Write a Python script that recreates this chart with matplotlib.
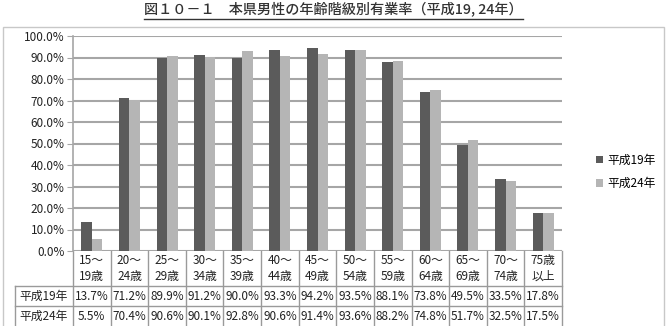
import matplotlib.pyplot as plt
from matplotlib.patches import Rectangle
from matplotlib.lines import Line2D
import numpy as np

plt.rcParams['font.family'] = ['Noto Sans CJK JP', 'DejaVu Sans']

# データ
categories = ["15～\n19歳", "20～\n24歳", "25～\n29歳", "30～\n34歳", "35～\n39歳",
              "40～\n44歳", "45～\n49歳", "50～\n54歳", "55～\n59歳", "60～\n64歳",
              "65～\n69歳", "70～\n74歳", "75歳\n以上"]
h19 = [13.7, 71.2, 89.9, 91.2, 90.0, 93.3, 94.2, 93.5, 88.1, 73.8, 49.5, 33.5, 17.8]
h24 = [5.5, 70.4, 90.6, 90.1, 92.8, 90.6, 91.4, 93.6, 88.2, 74.8, 51.7, 32.5, 17.5]
series_names = ["平成19年", "平成24年"]
title = "図１０－１　本県男性の年齢階級別有業率（平成19, 24年）"

W, H = 667, 326
fig = plt.figure(figsize=(W / 100, H / 100), dpi=100)
ax = fig.add_axes([73 / W, (H - 251) / H, (562 - 73) / W, (251 - 36) / H])

x = np.arange(len(categories))
bw = 0.28
b1 = ax.bar(x - bw / 2, h19, bw, color="#5b5b5b", zorder=3, label=series_names[0])
b2 = ax.bar(x + bw / 2, h24, bw, color="#b5b5b5", zorder=3, label=series_names[1])

ax.set_xlim(-0.5, len(categories) - 0.5)
ax.set_ylim(0, 100)
ax.set_yticks(np.arange(0, 101, 10))
ax.set_yticklabels([f"{v:.1f}%" for v in np.arange(0, 101, 10)], fontsize=8.5,
                   color="#222222")
ax.set_xticks([])
ax.grid(axis="y", color="#a6a6a6", linewidth=1.5, zorder=0)
for s in ["top", "right", "bottom"]:
    ax.spines[s].set_visible(False)
ax.spines["left"].set_color("#a6a6a6")
ax.spines["left"].set_linewidth(1.2)
ax.tick_params(axis="y", length=4, color="#a6a6a6", pad=2)

# 表
trans = ax.get_xaxis_transform()
ph = 251 - 36  # axes height in px
def yax(py):
    return -(py - 251) / ph
y_cat, y_r1, y_r2, y_bot = yax(251), yax(286), yax(306), yax(327)
lc = "#9a9a9a"
left_x = -0.5 - (73 - 15) / ((562 - 73) / len(categories))
for i in range(len(categories) + 1):
    ax.add_line(Line2D([i - 0.5, i - 0.5], [y_cat, y_bot], color=lc, lw=1,
                       transform=trans, clip_on=False))
ax.add_line(Line2D([left_x, left_x], [y_r1, y_bot], color=lc, lw=1,
                   transform=trans, clip_on=False))
for yy in [y_r1, y_r2]:
    ax.add_line(Line2D([left_x, len(categories) - 0.5], [yy, yy], color=lc, lw=1,
                       transform=trans, clip_on=False))
for i, c in enumerate(categories):
    ax.text(i, (y_cat + y_r1) / 2, c, transform=trans, ha="center", va="center",
            fontsize=8.5, linespacing=1.3, color="#222222")
    ax.text(i, (y_r1 + y_r2) / 2, f"{h19[i]:.1f}%", transform=trans, ha="center",
            va="center", fontsize=8.5, color="#222222")
    ax.text(i, (y_r2 + yax(326)) / 2, f"{h24[i]:.1f}%", transform=trans, ha="center",
            va="center", fontsize=8.5, color="#222222")
for name, y0, y1 in [(series_names[0], y_r1, y_r2), (series_names[1], y_r2, yax(326))]:
    ax.text((left_x - 0.5) / 2, (y0 + y1) / 2, name, transform=trans, ha="center",
            va="center", fontsize=8.5, color="#222222")

# 凡例
ax.legend(handles=[b1, b2], loc="center left", bbox_to_anchor=(585 / W, (H - 172) / H),
          bbox_transform=fig.transFigure, frameon=False, fontsize=8.5,
          handlelength=0.6, handleheight=0.6, handletextpad=0.4, labelspacing=0.9)

# 外枠
fig.patches.append(Rectangle((3 / W, -0.05), (664 - 3) / W, (H - 27) / H + 0.05,
                             transform=fig.transFigure, fill=False, edgecolor="#c8c8c8",
                             lw=1))

# タイトル（下線付き）
t = fig.text(0.5, (H - 10) / H, title, ha="center", va="center", fontsize=10.2,
             fontweight="medium", color="#333333")
fig.canvas.draw()
bb = t.get_window_extent().transformed(fig.transFigure.inverted())
fig.add_artist(Line2D([bb.x0, bb.x1], [bb.y0 - 1.5 / H, bb.y0 - 1.5 / H],
                      color="#333333", lw=1, transform=fig.transFigure))

fig.savefig("out.png", dpi=100)
